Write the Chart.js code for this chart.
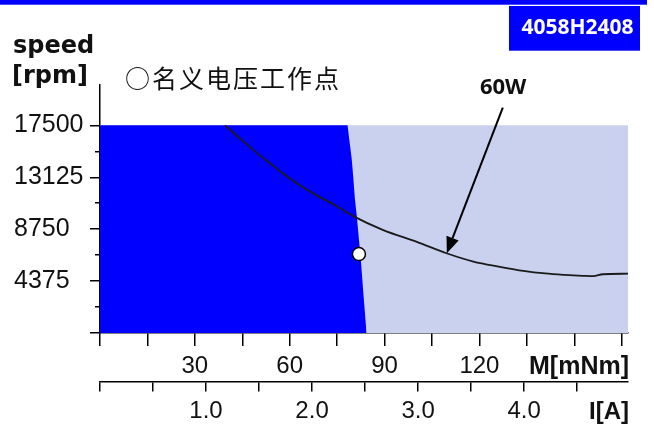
<!DOCTYPE html>
<html>
<head>
<meta charset="utf-8">
<script src="https://cdn.jsdelivr.net/npm/chart.js@4.4.1/dist/chart.umd.min.js"></script>
<style>
html, body { margin: 0; padding: 0; background: #fff; overflow: hidden; }
</style>
</head>
<body>
<canvas id="speedChart" width="654" height="427"></canvas>
<script>
// axis ticks
var torqueTicks = [0, 15, 30, 45, 60, 75, 90, 105, 120, 135, 150, 165];
var torqueLabels = [30, 60, 90, 120];
var currentTicks = [0, 0.5, 1, 1.5, 2, 2.5, 3, 3.5, 4, 4.5];
var currentLabels = [1, 2, 3, 4];
var speedTicks = [0, 4375, 8750, 13125, 17500];
var speedMinorTicks = [2187.5, 6562.5, 10937.5, 15312.5];

// operating range (light) and continuous range (blue), torque mNm / speed rpm
var rangeTorque = [0, 167];
var rangeSpeed = [17500, 17500];
var contTorque = [0, 78.3, 78.8, 79.6, 80.1, 80.6, 81.2, 82.5, 83.4, 84.3];
var contSpeed = [17500, 17500, 16400, 14700, 13150, 11350, 9900, 6150, 3000, 0];

// 60W curve
var powerTorque = [39.5, 45.3, 49.6, 53.8, 58.0, 63.2, 68.5, 73.8, 80.1, 89.6, 100.2, 109.6, 118.1, 126.5, 133.9, 140.8, 147, 152.8, 156, 159, 167];
var powerSpeed = [17500, 16150, 15180, 14290, 13420, 12450, 11600, 10850, 9850, 8670, 7680, 6720, 6020, 5580, 5240, 5020, 4900, 4820, 4790, 4950, 5000];

// nominal voltage operating point
var nominalTorque = [81.9];
var nominalSpeed = [6650];

// arrow to the 60W curve
var arrowFrom = [127.4, 19000];
var arrowTo = [109.7, 6730];
var powerLabelAt = [127.5, 20700];

function pts(xs, ys) {
    return xs.map(function (v, i) { return { x: v, y: ys[i] }; });
}

var annotations = {
    id: 'annotations',
    afterDraw: function (chart) {
        var ctx = chart.ctx;
        var sx = chart.scales.x, sy = chart.scales.y;
        var area = chart.chartArea;
        ctx.save();

        // strip at top and model box
        ctx.fillStyle = '#0000ff';
        ctx.fillRect(0, 0, 647, 4.7);
        ctx.fillRect(509, 6, 131, 44.7);
        ctx.fillStyle = '#fff';
        ctx.font = 'bold 21px "Open Sans"';
        ctx.textAlign = 'center';
        ctx.textBaseline = 'middle';
        ctx.fillText('4058H2408', 577.5, 28);

        // y axis title
        ctx.fillStyle = '#111';
        ctx.textAlign = 'left';
        ctx.textBaseline = 'alphabetic';
        ctx.font = 'bold 24px "DejaVu Sans"';
        ctx.fillText('speed', 13, 53);
        ctx.fillText('[rpm]', 12, 83);

        // legend text
        ctx.font = '25px "Noto Sans CJK SC"';
        ctx.textBaseline = 'middle';
        ctx.letterSpacing = '2px';
        ctx.fillText('○名义电压工作点', area.left + 25, 78);
        ctx.letterSpacing = '0px';

        // bottom axis titles
        ctx.font = 'bold 25px "Liberation Sans"';
        ctx.textAlign = 'right';
        ctx.textBaseline = 'alphabetic';
        ctx.fillText('M[mNm]', area.right + 1, 374);
        ctx.font = 'bold 24px "Liberation Sans"';
        ctx.fillText('I[A]', area.right + 1, 419);

        // 60W label and arrow
        var x0 = sx.getPixelForValue(arrowFrom[0]), y0 = sy.getPixelForValue(arrowFrom[1]);
        var x1 = sx.getPixelForValue(arrowTo[0]), y1 = sy.getPixelForValue(arrowTo[1]);
        ctx.font = 'bold 22px "Open Sans"';
        ctx.textAlign = 'center';
        ctx.textBaseline = 'middle';
        ctx.fillText('60W', sx.getPixelForValue(powerLabelAt[0]), sy.getPixelForValue(powerLabelAt[1]));

        var ang = Math.atan2(y1 - y0, x1 - x0);
        var head = 16, half = 6.5;
        var bx = x1 - head * Math.cos(ang), by = y1 - head * Math.sin(ang);
        ctx.strokeStyle = '#000';
        ctx.lineWidth = 2;
        ctx.beginPath();
        ctx.moveTo(x0, y0);
        ctx.lineTo(bx, by);
        ctx.stroke();
        ctx.fillStyle = '#000';
        ctx.beginPath();
        ctx.moveTo(x1, y1);
        ctx.lineTo(bx + half * Math.sin(ang), by - half * Math.cos(ang));
        ctx.lineTo(bx - half * Math.sin(ang), by + half * Math.cos(ang));
        ctx.closePath();
        ctx.fill();

        ctx.restore();
    }
};

var ctx = document.getElementById('speedChart').getContext('2d');
new Chart(ctx, {
    type: 'line',
    data: {
        datasets: [{
            // nominal point
            type: 'scatter',
            data: pts(nominalTorque, nominalSpeed),
            pointRadius: 6.5,
            pointBackgroundColor: '#fff',
            pointBorderColor: '#000',
            pointBorderWidth: 1.5,
            order: 0
        }, {
            data: pts(powerTorque, powerSpeed),
            borderColor: '#1a1a1a',
            borderWidth: 1.8,
            pointRadius: 0,
            fill: false,
            cubicInterpolationMode: 'monotone',
            order: 1
        }, {
            data: pts(contTorque, contSpeed),
            borderWidth: 0,
            borderColor: 'rgba(0,0,0,0)',
            backgroundColor: '#0000ff',
            pointRadius: 0,
            fill: 'origin',
            tension: 0,
            order: 2
        }, {
            data: pts(rangeTorque, rangeSpeed),
            borderWidth: 0,
            borderColor: 'rgba(0,0,0,0)',
            backgroundColor: '#c9d1ee',
            pointRadius: 0,
            fill: 'origin',
            order: 3
        }]
    },
    options: {
        responsive: false,
        animation: false,
        devicePixelRatio: 1,
        layout: { padding: { left: 14, top: 85, right: 26, bottom: 0 } },
        plugins: { legend: { display: false }, tooltip: { enabled: false } },
        scales: {
            x: {
                type: 'linear', position: 'bottom', min: 0, max: 167, weight: 0, z: 1,
                afterBuildTicks: function (s) { s.ticks = torqueTicks.map(function (v) { return { value: v }; }); },
                afterFit: function (s) { s.height = 48.5; },
                border: { color: '#000', width: 1.5 },
                grid: { drawOnChartArea: false, tickLength: 13, color: '#000', lineWidth: 1.5 },
                ticks: {
                    autoSkip: false, maxRotation: 0, padding: 6, color: '#111',
                    font: { family: 'Liberation Sans', size: 24 },
                    callback: function (v) { return torqueLabels.indexOf(v) >= 0 ? String(v) : ''; }
                }
            },
            xI: {
                type: 'linear', position: 'bottom', min: 0, max: 4.98, weight: 1, z: 1,
                afterBuildTicks: function (s) { s.ticks = currentTicks.map(function (v) { return { value: v }; }); },
                afterFit: function (s) { s.height = 45.5; },
                border: { color: '#000', width: 1.5 },
                grid: { drawOnChartArea: false, tickLength: 10, color: '#000', lineWidth: 1.5 },
                ticks: {
                    autoSkip: false, maxRotation: 0, padding: 5, color: '#111',
                    font: { family: 'Liberation Sans', size: 24 },
                    callback: function (v) { return currentLabels.indexOf(v) >= 0 ? v.toFixed(1) : ''; }
                }
            },
            y: {
                type: 'linear', position: 'left', min: 0, max: 20900, weight: 0, z: 1,
                afterBuildTicks: function (s) { s.ticks = speedTicks.map(function (v) { return { value: v }; }); },
                afterFit: function (s) { s.width = 86; },
                border: { color: '#000', width: 1.5 },
                grid: { drawOnChartArea: false, tickLength: 10, color: '#000', lineWidth: 1.5 },
                ticks: {
                    crossAlign: 'far', padding: 2, color: '#111',
                    font: { family: 'Liberation Sans', size: 25 },
                    callback: function (v) { return v === 0 ? '' : String(v); }
                }
            },
            yMinor: {
                type: 'linear', position: 'left', min: 0, max: 20900, weight: -1, z: 1,
                afterBuildTicks: function (s) { s.ticks = speedMinorTicks.map(function (v) { return { value: v }; }); },
                afterFit: function (s) { s.width = 0; },
                border: { display: false },
                grid: { drawOnChartArea: false, tickLength: 5, color: '#000', lineWidth: 1.5 },
                ticks: { display: false }
            }
        }
    },
    plugins: [annotations]
});
</script>
</body>
</html>
